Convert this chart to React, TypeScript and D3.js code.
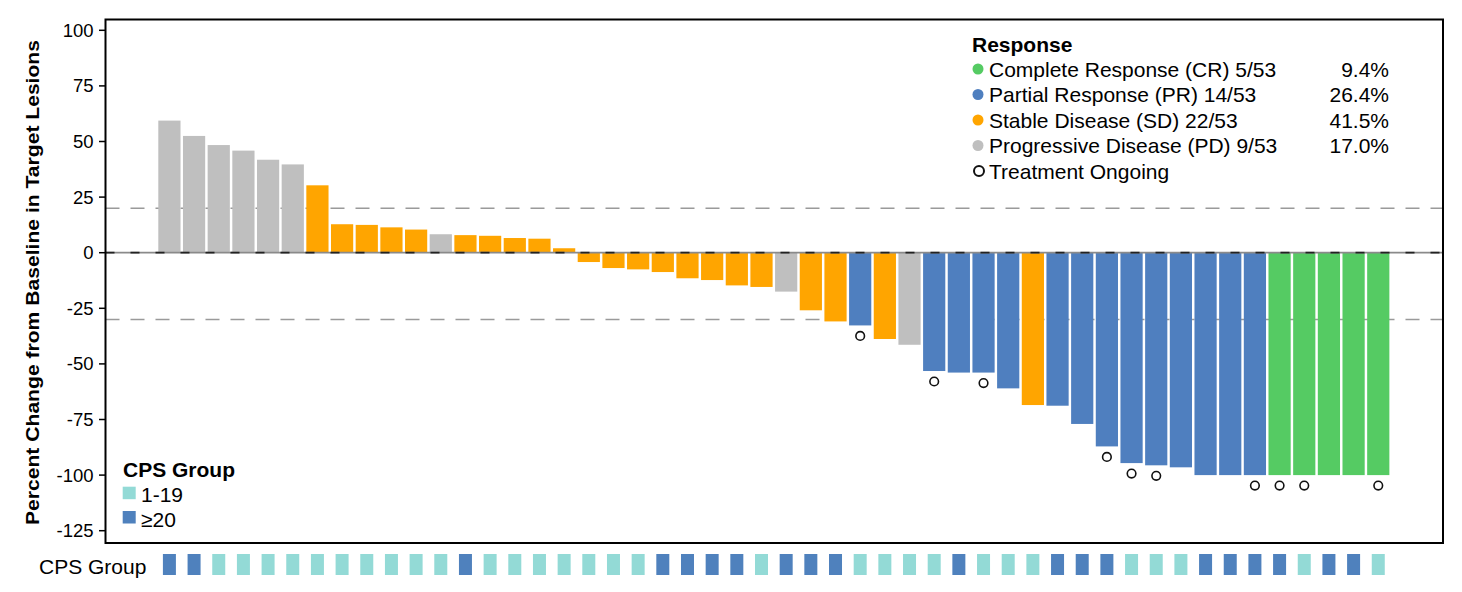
import React from "react";
import * as d3 from "d3";

const values: number[] = [
  59.4, 52.5, 48.4, 45.9, 41.8, 39.7,
  30.3, 12.8, 12.5, 11.4, 10.4,
  8.3,
  7.9, 7.6, 6.6, 6.3, 2.0,
  -4.2, -6.9, -7.5, -8.7, -11.5, -12.3, -14.7, -15.4,
  -17.5, -25.9, -30.9, -32.7, -38.8, -41.4,
  -53.2, -53.9, -53.9, -61.0, -68.5,
  -68.8, -77.0, -87.1, -94.6, -95.6, -96.5, -100, -100, -100,
  -100, -100, -100, -100, -100,
];

const responses: string[] = [
  "PD", "PD", "PD", "PD", "PD", "PD",
  "SD", "SD", "SD", "SD", "SD",
  "PD",
  "SD", "SD", "SD", "SD", "SD",
  "SD", "SD", "SD", "SD", "SD", "SD", "SD", "SD",
  "PD", "SD", "SD", "PR", "SD", "PD",
  "PR", "PR", "PR", "PR", "SD",
  "PR", "PR", "PR", "PR", "PR", "PR", "PR", "PR", "PR",
  "CR", "CR", "CR", "CR", "CR",
];

const cpsGroup: string[] = [
  "hi", "hi", "lo", "lo", "lo", "lo", "lo", "lo", "lo", "lo", "lo", "lo",
  "hi", "lo", "lo", "lo", "lo", "lo", "lo", "lo",
  "hi", "hi", "hi", "hi", "lo",
  "hi", "hi", "hi", "lo", "lo", "lo", "lo", "hi", "lo", "lo", "lo",
  "hi", "hi", "hi", "lo", "lo", "lo", "hi", "hi", "hi", "hi", "lo",
  "hi", "hi", "lo",
];

const ongoing: number[] = [28, 31, 33, 38, 39, 40, 44, 45, 46, 49];

const yTicks: number[] = [100, 75, 50, 25, 0, -25, -50, -75, -100, -125];
const refLines: number[] = [20, -30];

const legendKeys: string[] = ["CR", "PR", "SD", "PD"];
const legendLabels: string[] = [
  "Complete Response (CR) 5/53",
  "Partial Response (PR) 14/53",
  "Stable Disease (SD) 22/53",
  "Progressive Disease (PD) 9/53",
];
const legendPct: string[] = ["9.4%", "26.4%", "41.5%", "17.0%"];
const cpsKeys: string[] = ["lo", "hi"];
const cpsLabels: string[] = ["1-19", "≥20"];

const respColor: Record<string, string> = {
  CR: "#55CB63",
  PR: "#4F7FBF",
  SD: "#FFA500",
  PD: "#BFBFBF",
};
const cpsColor: Record<string, string> = { lo: "#93DAD6", hi: "#4F81BD" };

const FONT = "'Liberation Sans', Arial, sans-serif";

export default function App() {
  const W = 1462, H = 592;
  const frame = { l: 105.5, r: 1443, t: 19.5, b: 543 };
  const y = d3.scaleLinear().domain([-125, 100]).range([530.7, 30.3]);
  const x = d3
    .scaleBand<number>()
    .domain(values.map((_, i) => i))
    .range([157.07, 1390.6])
    .paddingInner(0.1)
    .paddingOuter(0.05);
  const bw = x.bandwidth();

  return (
    <svg
      width={W}
      height={H}
      style={{ position: "absolute", left: 0, top: 0, background: "#fff" }}
      fontFamily={FONT}
    >
      {/* reference lines */}
      {refLines.map((v) => (
        <line
          key={v}
          x1={frame.l}
          x2={frame.r}
          y1={y(v)}
          y2={y(v)}
          stroke="#9a9a9a"
          strokeWidth={1.5}
          strokeDasharray="14 11"
        />
      ))}
      {/* bars */}
      {values.map((v, i) => (
        <rect
          key={i}
          x={x(i)!}
          width={bw}
          y={Math.min(y(v), y(0))}
          height={Math.abs(y(v) - y(0))}
          fill={respColor[responses[i]]}
        />
      ))}
      {/* zero line */}
      <line x1={frame.l} x2={frame.r} y1={y(0)} y2={y(0)} stroke="#8a8a8a" strokeWidth={1.8} />
      <line
        x1={frame.l}
        x2={frame.r}
        y1={y(0)}
        y2={y(0)}
        stroke="#222"
        strokeWidth={1.8}
        strokeDasharray="9 16"
      />
      {/* ongoing markers */}
      {ongoing.map((i) => (
        <circle
          key={i}
          cx={x(i)! + bw / 2}
          cy={y(values[i]) + 10.5}
          r={4.3}
          fill="#fff"
          stroke="#111"
          strokeWidth={1.6}
        />
      ))}
      {/* frame */}
      <rect
        x={frame.l}
        y={frame.t}
        width={frame.r - frame.l}
        height={frame.b - frame.t}
        fill="none"
        stroke="#000"
        strokeWidth={2}
      />
      {/* y axis ticks */}
      {yTicks.map((t) => (
        <g key={t}>
          <line x1={99} x2={frame.l} y1={y(t)} y2={y(t)} stroke="#000" strokeWidth={1.5} />
          <text
            x={93.5}
            y={y(t)}
            textAnchor="end"
            dominantBaseline="central"
            fontSize={18.5}
            fill="#000"
          >
            {t}
          </text>
        </g>
      ))}
      <text
        transform={`translate(39, 282.5) rotate(-90)`}
        textAnchor="middle"
        fontSize={19}
        fontWeight="bold"
        fill="#000"
        textLength={485}
        lengthAdjust="spacingAndGlyphs"
      >
        Percent Change from Baseline in Target Lesions
      </text>
      {/* CPS group row */}
      <text x={39} y={566} dominantBaseline="central" fontSize={21} fill="#000">
        CPS Group
      </text>
      {cpsGroup.map((g, i) => (
        <rect
          key={i}
          x={x(i)! + bw / 2 - 6.5}
          y={554}
          width={13}
          height={21}
          fill={cpsColor[g]}
        />
      ))}
      {/* response legend */}
      <text x={972} y={44} dominantBaseline="central" fontSize={21} fontWeight="bold" fill="#000">
        Response
      </text>
      {legendKeys.map((k, j) => {
        const cy = 69 + j * 25.5;
        return (
          <g key={k}>
            <circle cx={978} cy={cy} r={5.5} fill={respColor[k]} />
            <text x={989} y={cy} dominantBaseline="central" fontSize={21} fill="#000">
              {legendLabels[j]}
            </text>
            <text x={1389} y={cy} dominantBaseline="central" textAnchor="end" fontSize={21} fill="#000">
              {legendPct[j]}
            </text>
          </g>
        );
      })}
      <circle cx={979} cy={171} r={5} fill="#fff" stroke="#111" strokeWidth={2} />
      <text x={989} y={171} dominantBaseline="central" fontSize={21} fill="#000">
        Treatment Ongoing
      </text>
      {/* CPS legend */}
      <text x={123} y={469} dominantBaseline="central" fontSize={21} fontWeight="bold" fill="#000">
        CPS Group
      </text>
      {cpsKeys.map((k, j) => (
        <g key={k}>
          <rect x={122.7} y={486.7 + j * 24.3} width={13} height={12.5} fill={cpsColor[k]} />
          <text x={141} y={494 + j * 25} dominantBaseline="central" fontSize={21} fill="#000">
            {cpsLabels[j]}
          </text>
        </g>
      ))}
    </svg>
  );
}
